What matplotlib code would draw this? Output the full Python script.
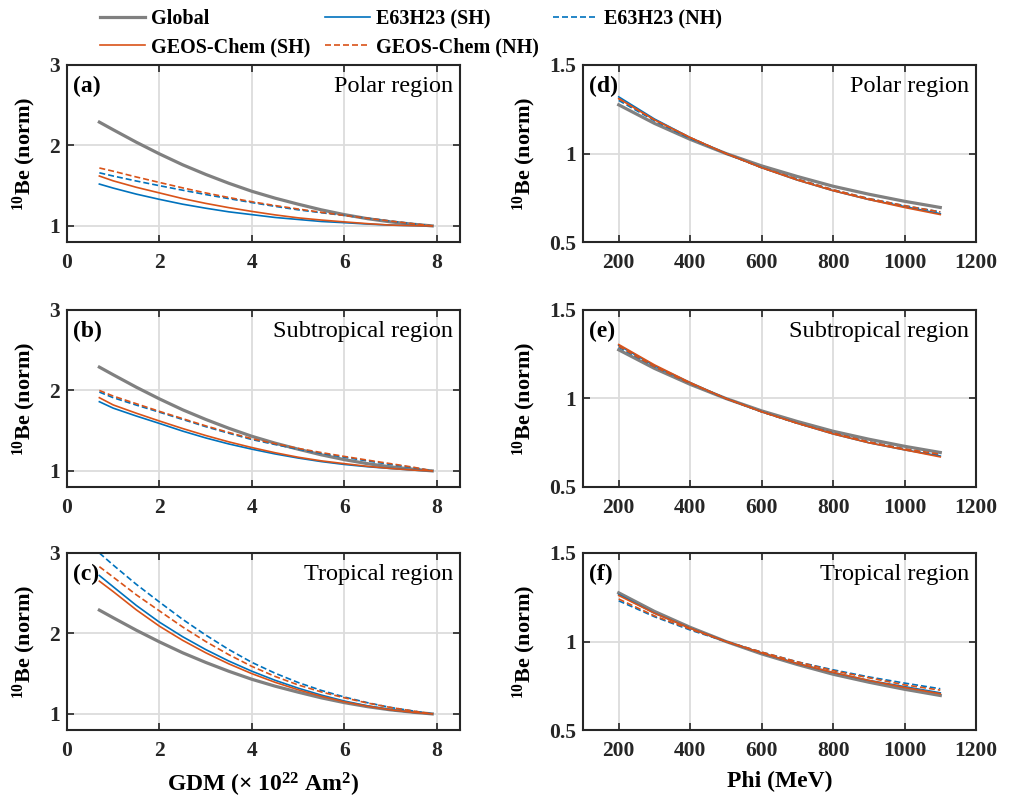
import matplotlib
matplotlib.use("Agg")
import matplotlib.pyplot as plt
from matplotlib.ticker import FuncFormatter

plt.rcParams['font.family'] = ['Liberation Serif', 'DejaVu Serif']
plt.rcParams['mathtext.fontset'] = 'custom'
plt.rcParams['mathtext.default'] = 'regular'

# GDM panels (a-c)
gdm = [0.7, 1, 1.5, 2, 2.5, 3, 3.5, 4, 4.5, 5, 5.5, 6, 6.5, 7, 7.5, 7.9]
gdm_global = [2.29, 2.195, 2.04, 1.895, 1.76, 1.64, 1.53, 1.43, 1.345, 1.27,
              1.20, 1.14, 1.09, 1.05, 1.02, 1.00]

gdm_e63_sh = {
    'polar':       [1.52, 1.47, 1.395, 1.33, 1.27, 1.22, 1.175, 1.14, 1.105, 1.08,
                    1.055, 1.04, 1.023, 1.01, 1.003, 1.00],
    'subtropical': [1.86, 1.78, 1.682, 1.59, 1.495, 1.41, 1.335, 1.27, 1.211, 1.16,
                    1.116, 1.08, 1.052, 1.03, 1.01, 1.00],
    'tropical':    [2.72, 2.58, 2.348, 2.14, 1.96, 1.80, 1.657, 1.53, 1.418, 1.32,
                    1.234, 1.16, 1.10, 1.05, 1.018, 1.00],
}
gdm_e63_nh = {
    'polar':       [1.66, 1.62, 1.558, 1.50, 1.444, 1.39, 1.339, 1.29, 1.243, 1.20,
                    1.164, 1.13, 1.095, 1.06, 1.026, 1.00],
    'subtropical': [1.98, 1.91, 1.818, 1.73, 1.64, 1.55, 1.468, 1.39, 1.328, 1.27,
                    1.218, 1.17, 1.124, 1.08, 1.04, 1.00],
    'tropical':    [3.00, 2.85, 2.61, 2.39, 2.176, 1.98, 1.80, 1.64, 1.506, 1.39,
                    1.292, 1.21, 1.139, 1.08, 1.035, 1.00],
}
gdm_geos_sh = {
    'polar':       [1.62, 1.56, 1.48, 1.41, 1.34, 1.28, 1.227, 1.18, 1.137, 1.10,
                    1.073, 1.05, 1.028, 1.01, 1.003, 1.00],
    'subtropical': [1.91, 1.82, 1.717, 1.62, 1.527, 1.44, 1.361, 1.29, 1.226, 1.17,
                    1.125, 1.09, 1.057, 1.03, 1.01, 1.00],
    'tropical':    [2.65, 2.52, 2.293, 2.09, 1.915, 1.76, 1.622, 1.50, 1.393, 1.30,
                    1.219, 1.15, 1.095, 1.05, 1.018, 1.00],
}
gdm_geos_nh = {
    'polar':       [1.72, 1.68, 1.608, 1.54, 1.473, 1.41, 1.353, 1.30, 1.253, 1.21,
                    1.169, 1.13, 1.095, 1.06, 1.026, 1.00],
    'subtropical': [2.00, 1.93, 1.835, 1.74, 1.65, 1.56, 1.478, 1.40, 1.338, 1.28,
                    1.228, 1.18, 1.134, 1.09, 1.045, 1.00],
    'tropical':    [2.83, 2.70, 2.48, 2.28, 2.081, 1.90, 1.736, 1.59, 1.466, 1.36,
                    1.273, 1.20, 1.135, 1.08, 1.035, 1.00],
}

# Phi panels (d-f)
phi = [200, 300, 400, 500, 600, 700, 800, 900, 1000, 1100]
phi_global = [1.275, 1.17, 1.08, 1.00, 0.93, 0.87, 0.815, 0.77, 0.73, 0.695]

phi_e63_sh = {
    'polar':       [1.32, 1.195, 1.09, 1.00, 0.92, 0.85, 0.79, 0.74, 0.70, 0.66],
    'subtropical': [1.30, 1.185, 1.09, 1.00, 0.925, 0.86, 0.80, 0.75, 0.71, 0.675],
    'tropical':    [1.265, 1.16, 1.075, 1.00, 0.935, 0.875, 0.825, 0.78, 0.745, 0.71],
}
phi_e63_nh = {
    'polar':       [1.30, 1.185, 1.085, 1.00, 0.92, 0.855, 0.795, 0.745, 0.705, 0.67],
    'subtropical': [1.29, 1.18, 1.085, 1.00, 0.925, 0.86, 0.805, 0.755, 0.715, 0.68],
    'tropical':    [1.23, 1.14, 1.065, 1.00, 0.94, 0.885, 0.84, 0.80, 0.765, 0.733],
}
phi_geos_sh = {
    'polar':       [1.31, 1.19, 1.09, 1.00, 0.92, 0.85, 0.79, 0.74, 0.695, 0.655],
    'subtropical': [1.305, 1.19, 1.09, 1.00, 0.925, 0.86, 0.80, 0.75, 0.71, 0.67],
    'tropical':    [1.26, 1.16, 1.075, 1.00, 0.935, 0.875, 0.825, 0.78, 0.74, 0.705],
}
phi_geos_nh = {
    'polar':       [1.31, 1.19, 1.09, 1.00, 0.92, 0.855, 0.795, 0.745, 0.705, 0.67],
    'subtropical': [1.295, 1.18, 1.085, 1.00, 0.925, 0.86, 0.805, 0.755, 0.715, 0.685],
    'tropical':    [1.24, 1.145, 1.07, 1.00, 0.94, 0.885, 0.835, 0.795, 0.755, 0.725],
}

regions = ['polar', 'subtropical', 'tropical']
region_titles = ['Polar region', 'Subtropical region', 'Tropical region']
left_tags = ['(a)', '(b)', '(c)']
right_tags = ['(d)', '(e)', '(f)']

blue = '#0072BD'
orange = '#D95319'
gray = '#808080'
dash = (0, (3.6, 1.8))

fig = plt.figure(figsize=(10.12, 7.97), dpi=100)

W, H = 1012, 797
col_x = [67 / W, 583 / W]
ax_w = 393 / W
ax_h = 177 / H
row_top = [65, 310, 553]


def style_axes(ax):
    ax.set_axisbelow(True)
    ax.grid(True, color='#dcdcdc', lw=1.3)
    for s in ax.spines.values():
        s.set_linewidth(1.5)
        s.set_color('#262626')
    ax.tick_params(direction='in', top=True, right=True, length=5, width=1.2,
                   colors='#262626', labelsize=15.5)
    ax.tick_params(axis='x', pad=8)
    ax.tick_params(axis='y', pad=5)
    for lab in ax.get_xticklabels() + ax.get_yticklabels():
        lab.set_fontweight('bold')


def plot_panel(ax, x, glob, e_sh, e_nh, g_sh, g_nh):
    lines = {}
    lines['Global'], = ax.plot(x, glob, color=gray, lw=2.3)
    lines['E63H23 (SH)'], = ax.plot(x, e_sh, color=blue, lw=1.2)
    lines['E63H23 (NH)'], = ax.plot(x, e_nh, color=blue, lw=1.2, ls=dash)
    lines['GEOS-Chem (SH)'], = ax.plot(x, g_sh, color=orange, lw=1.2)
    lines['GEOS-Chem (NH)'], = ax.plot(x, g_nh, color=orange, lw=1.2, ls=dash)
    return lines


fmt = FuncFormatter(lambda v, p: '%g' % v)

for i, reg in enumerate(regions):
    bottom = 1 - (row_top[i] + 177) / H
    # left column: GDM
    ax = fig.add_axes([col_x[0], bottom, ax_w, ax_h])
    lines = plot_panel(ax, gdm, gdm_global, gdm_e63_sh[reg], gdm_e63_nh[reg],
                       gdm_geos_sh[reg], gdm_geos_nh[reg])
    ax.set_xlim(0, 8.5)
    ax.set_ylim(0.8, 3)
    ax.set_xticks([0, 2, 4, 6, 8])
    ax.set_yticks([1, 2, 3])
    ax.xaxis.set_major_formatter(fmt)
    ax.yaxis.set_major_formatter(fmt)
    style_axes(ax)
    ax.set_ylabel(r'$^{10}$Be (norm)', fontsize=16, fontweight='bold', labelpad=8)
    ax.text(0.014, 0.85, left_tags[i], transform=ax.transAxes, fontsize=17,
            fontweight='bold', va='baseline')
    ax.text(0.982, 0.85, region_titles[i], transform=ax.transAxes, fontsize=17.5,
            ha='right', va='baseline')
    if i == 2:
        ax.set_xlabel(r'GDM (× 10$^{22}$ Am$^{2}$)', fontsize=17, fontweight='bold',
                      labelpad=7)
    if i == 0:
        legend_lines = lines

    # right column: Phi
    ax = fig.add_axes([col_x[1], bottom, ax_w, ax_h])
    plot_panel(ax, phi, phi_global, phi_e63_sh[reg], phi_e63_nh[reg],
               phi_geos_sh[reg], phi_geos_nh[reg])
    ax.set_xlim(100, 1200)
    ax.set_ylim(0.5, 1.5)
    ax.set_xticks([200, 400, 600, 800, 1000, 1200])
    ax.set_yticks([0.5, 1, 1.5])
    ax.xaxis.set_major_formatter(fmt)
    ax.yaxis.set_major_formatter(fmt)
    style_axes(ax)
    ax.set_ylabel(r'$^{10}$Be (norm)', fontsize=16, fontweight='bold', labelpad=8)
    ax.text(0.014, 0.85, right_tags[i], transform=ax.transAxes, fontsize=17,
            fontweight='bold', va='baseline')
    ax.text(0.982, 0.85, region_titles[i], transform=ax.transAxes, fontsize=17.5,
            ha='right', va='baseline')
    if i == 2:
        ax.set_xlabel('Phi (MeV)', fontsize=17, fontweight='bold', labelpad=7)

# column-major order so rows read: Global, E63H23 SH, E63H23 NH / GEOS SH, GEOS NH
leg_order = ['Global', 'GEOS-Chem (SH)', 'E63H23 (SH)', 'GEOS-Chem (NH)', 'E63H23 (NH)']
leg = fig.legend([legend_lines[k] for k in leg_order], leg_order, ncol=3,
                 loc='upper left', bbox_to_anchor=(100 / W, 1 - 9 / H),
                 frameon=False, prop={'weight': 'bold', 'size': 14.5},
                 handlelength=2.24, handletextpad=0.3, columnspacing=0.7,
                 labelspacing=0.4, borderpad=0, borderaxespad=0)

fig.savefig('out.png', dpi=100)
